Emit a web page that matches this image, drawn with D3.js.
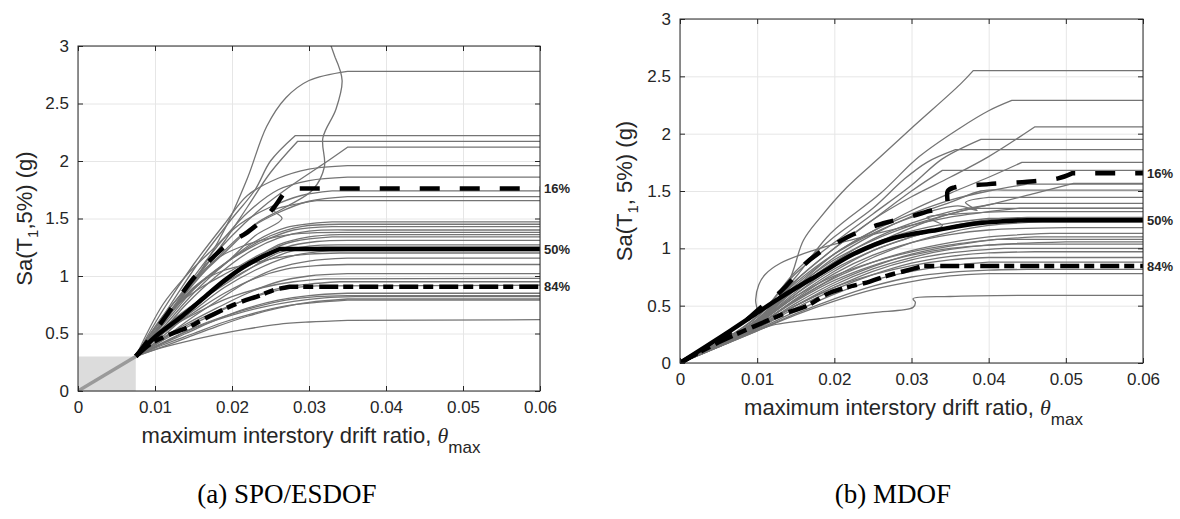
<!DOCTYPE html>
<html>
<head>
<meta charset="utf-8">
<script src="https://cdn.jsdelivr.net/npm/d3@7"></script>
<style>
  body { margin: 0; background: #fff; }
  svg text { font-family: "Liberation Sans", Arial, sans-serif; fill: #262626; }
  svg .caption { font-family: "Liberation Serif", "Times New Roman", serif; fill: #000; }
</style>
</head>
<body>
<div id="chart"></div>
<script>
// ---- axis ticks / labels
var xTicks = [0, 0.01, 0.02, 0.03, 0.04, 0.05, 0.06];
var yTicks = [0, 0.5, 1, 1.5, 2, 2.5, 3];
var pctNames = ["16%", "50%", "84%"];

// ---- (a) SPO/ESDOF : elastic part + individual records
var spoElastic = [[0, 0], [0.0075, 0.3]];

var spoCurves = [
  [[0.0075,0.3],[0.011,0.6],[0.015,0.95],[0.019,1.4],[0.022,1.85],[0.0245,2.3],[0.027,2.55],[0.03,2.7],[0.035,2.78],[0.06,2.78]],
  [[0.0075,0.3],[0.011,0.65],[0.015,0.95],[0.019,1.2],[0.023,1.45],[0.027,1.6],[0.0305,1.75],[0.032,1.95],[0.0318,2.2],[0.0335,2.45],[0.0343,2.7],[0.0334,2.9],[0.0326,3.05]],
  [[0.0075,0.3],[0.012,0.75],[0.016,1.15],[0.02,1.5],[0.023,1.75],[0.025,2.0],[0.0282,2.22],[0.06,2.22]],
  [[0.0075,0.3],[0.011,0.6],[0.015,0.95],[0.019,1.3],[0.022,1.6],[0.025,1.9],[0.0285,2.17],[0.06,2.17]],
  [[0.0075,0.3],[0.012,0.7],[0.016,1.05],[0.02,1.35],[0.024,1.6],[0.028,1.8],[0.032,1.98],[0.035,2.12],[0.06,2.12]],
  [[0.0075,0.3],[0.011,0.7],[0.015,1.1],[0.019,1.45],[0.022,1.7],[0.026,1.85],[0.03,1.93],[0.035,1.96],[0.06,1.96]],
  [[0.0075,0.3],[0.01,0.55],[0.014,0.9],[0.018,1.25],[0.022,1.55],[0.026,1.75],[0.03,1.83],[0.035,1.86],[0.06,1.86]],
  [[0.0075,0.3],[0.011,0.75],[0.014,1.0],[0.017,1.2],[0.021,1.45],[0.025,1.6],[0.029,1.7],[0.033,1.74],[0.06,1.74]],
  [[0.0075,0.3],[0.01,0.5],[0.014,0.85],[0.018,1.15],[0.022,1.4],[0.026,1.55],[0.03,1.65],[0.035,1.69],[0.06,1.69]],
  [[0.0075,0.3],[0.011,0.6],[0.015,0.9],[0.019,1.1],[0.023,1.35],[0.0265,1.5],[0.0255,1.57],[0.028,1.62],[0.031,1.655],[0.06,1.655]],
  [[0.0075,0.3],[0.011,0.55],[0.015,0.85],[0.019,1.1],[0.023,1.3],[0.027,1.42],[0.033,1.47],[0.06,1.47]],
  [[0.0075,0.3],[0.01,0.5],[0.013,0.75],[0.017,1.0],[0.021,1.2],[0.025,1.35],[0.029,1.43],[0.034,1.45],[0.06,1.45]],
  [[0.0075,0.3],[0.012,0.65],[0.016,0.95],[0.02,1.15],[0.024,1.3],[0.028,1.4],[0.033,1.43],[0.06,1.43]],
  [[0.0075,0.3],[0.01,0.45],[0.014,0.75],[0.018,1.0],[0.022,1.2],[0.026,1.33],[0.03,1.39],[0.035,1.4],[0.06,1.4]],
  [[0.0075,0.3],[0.011,0.6],[0.015,0.95],[0.018,1.15],[0.021,1.25],[0.025,1.33],[0.029,1.37],[0.034,1.38],[0.06,1.38]],
  [[0.0075,0.3],[0.01,0.42],[0.014,0.65],[0.018,0.9],[0.022,1.1],[0.026,1.27],[0.03,1.34],[0.034,1.36],[0.06,1.36]],
  [[0.0075,0.3],[0.012,0.7],[0.016,0.9],[0.02,1.05],[0.024,1.2],[0.028,1.3],[0.033,1.34],[0.06,1.34]],
  [[0.0075,0.3],[0.011,0.5],[0.015,0.75],[0.019,0.95],[0.023,1.12],[0.027,1.25],[0.031,1.3],[0.035,1.31],[0.06,1.31]],
  [[0.0075,0.3],[0.01,0.45],[0.014,0.7],[0.018,0.88],[0.022,1.05],[0.026,1.2],[0.03,1.26],[0.035,1.27],[0.06,1.27]],
  [[0.0075,0.3],[0.012,0.6],[0.016,0.8],[0.02,0.98],[0.024,1.12],[0.028,1.22],[0.032,1.25],[0.06,1.25]],
  [[0.0075,0.3],[0.011,0.5],[0.015,0.7],[0.019,0.9],[0.023,1.05],[0.027,1.16],[0.031,1.21],[0.035,1.22],[0.06,1.22]],
  [[0.0075,0.3],[0.013,0.75],[0.016,0.95],[0.019,1.05],[0.022,1.1],[0.026,1.16],[0.03,1.19],[0.034,1.2],[0.06,1.2]],
  [[0.0075,0.3],[0.01,0.4],[0.014,0.6],[0.018,0.78],[0.022,0.95],[0.026,1.07],[0.03,1.13],[0.035,1.155],[0.06,1.155]],
  [[0.0075,0.3],[0.011,0.5],[0.015,0.68],[0.019,0.85],[0.023,0.98],[0.027,1.06],[0.031,1.09],[0.035,1.1],[0.06,1.1]],
  [[0.0075,0.3],[0.01,0.42],[0.014,0.58],[0.018,0.72],[0.022,0.85],[0.026,0.95],[0.03,1.0],[0.035,1.02],[0.06,1.02]],
  [[0.0075,0.3],[0.012,0.55],[0.016,0.7],[0.02,0.82],[0.024,0.9],[0.028,0.95],[0.032,0.975],[0.06,0.98]],
  [[0.0075,0.3],[0.01,0.4],[0.014,0.55],[0.018,0.68],[0.022,0.8],[0.026,0.89],[0.03,0.93],[0.034,0.95],[0.06,0.95]],
  [[0.0075,0.3],[0.011,0.45],[0.015,0.6],[0.019,0.72],[0.023,0.82],[0.027,0.89],[0.031,0.915],[0.06,0.92]],
  [[0.0075,0.3],[0.01,0.38],[0.014,0.5],[0.018,0.62],[0.022,0.72],[0.026,0.79],[0.03,0.83],[0.035,0.85],[0.06,0.85]],
  [[0.0075,0.3],[0.011,0.42],[0.015,0.55],[0.019,0.65],[0.023,0.73],[0.027,0.79],[0.031,0.82],[0.035,0.83],[0.06,0.83]],
  [[0.0075,0.3],[0.012,0.45],[0.016,0.57],[0.02,0.66],[0.024,0.73],[0.028,0.78],[0.032,0.81],[0.036,0.82],[0.06,0.82]],
  [[0.0075,0.3],[0.01,0.36],[0.014,0.46],[0.018,0.56],[0.022,0.65],[0.026,0.72],[0.03,0.77],[0.035,0.8],[0.06,0.8]],
  [[0.0075,0.3],[0.011,0.4],[0.015,0.5],[0.019,0.6],[0.023,0.68],[0.027,0.74],[0.031,0.77],[0.035,0.79],[0.06,0.79]],
  [[0.0075,0.3],[0.01,0.36],[0.014,0.43],[0.018,0.49],[0.022,0.54],[0.026,0.58],[0.03,0.6],[0.035,0.615],[0.06,0.62]]
];

var spo16 = [[0.0075,0.3],[0.009,0.43],[0.0113,0.64],[0.013,0.8],[0.015,0.98],[0.0175,1.16],[0.0195,1.28],[0.022,1.38],[0.024,1.49],[0.0255,1.6],[0.027,1.74],[0.0275,1.76],[0.06,1.76]];
var spo50 = [[0.0075,0.3],[0.01,0.47],[0.0135,0.65],[0.0165,0.82],[0.019,0.96],[0.0215,1.08],[0.024,1.17],[0.0262,1.235],[0.06,1.235]];
var spo84 = [[0.0075,0.3],[0.0094,0.41],[0.0115,0.48],[0.0145,0.56],[0.0162,0.62],[0.0206,0.76],[0.0236,0.83],[0.0255,0.88],[0.0275,0.907],[0.06,0.907]];

// ---- (b) MDOF : individual records
var mdofCurves = [
  [[0,0],[0.005,0.17],[0.01,0.38],[0.014,0.7],[0.016,1.07],[0.0182,1.27],[0.0216,1.53],[0.026,1.8],[0.0302,2.06],[0.0363,2.43],[0.038,2.55],[0.06,2.55]],
  [[0,0],[0.005,0.17],[0.01,0.38],[0.015,0.75],[0.0195,1.13],[0.026,1.48],[0.031,1.8],[0.0363,2.05],[0.04,2.2],[0.043,2.29],[0.06,2.29]],
  [[0,0],[0.005,0.17],[0.01,0.36],[0.015,0.72],[0.02,1.0],[0.025,1.25],[0.03,1.45],[0.035,1.62],[0.04,1.8],[0.046,2.06],[0.06,2.06]],
  [[0,0],[0.005,0.18],[0.01,0.4],[0.015,0.78],[0.02,1.05],[0.025,1.3],[0.03,1.55],[0.034,1.78],[0.039,1.95],[0.06,1.95]],
  [[0,0],[0.005,0.18],[0.01,0.4],[0.015,0.8],[0.02,1.1],[0.025,1.35],[0.029,1.6],[0.032,1.75],[0.0357,1.86],[0.06,1.86]],
  [[0,0],[0.005,0.16],[0.01,0.36],[0.015,0.66],[0.02,0.95],[0.025,1.15],[0.03,1.33],[0.035,1.48],[0.04,1.62],[0.0443,1.75],[0.06,1.75]],
  [[0,0],[0.005,0.17],[0.01,0.38],[0.015,0.72],[0.02,1.0],[0.025,1.25],[0.03,1.5],[0.034,1.68],[0.06,1.68]],
  [[0,0],[0.005,0.16],[0.01,0.35],[0.015,0.62],[0.02,0.88],[0.025,1.08],[0.03,1.22],[0.035,1.32],[0.04,1.38],[0.046,1.48],[0.051,1.567],[0.06,1.567]],
  [[0,0],[0.005,0.17],[0.01,0.37],[0.015,0.68],[0.02,0.95],[0.025,1.15],[0.03,1.3],[0.035,1.42],[0.04,1.5],[0.045,1.56],[0.06,1.56]],
  [[0,0],[0.005,0.16],[0.01,0.35],[0.015,0.65],[0.02,0.92],[0.025,1.12],[0.03,1.28],[0.035,1.4],[0.039,1.5],[0.042,1.508],[0.06,1.508]],
  [[0,0],[0.005,0.17],[0.01,0.38],[0.015,0.7],[0.02,0.95],[0.025,1.13],[0.03,1.27],[0.036,1.37],[0.0385,1.33],[0.037,1.4],[0.04,1.445],[0.06,1.445]],
  [[0,0],[0.005,0.16],[0.01,0.34],[0.015,0.6],[0.02,0.85],[0.025,1.03],[0.03,1.18],[0.035,1.3],[0.041,1.392],[0.06,1.392]],
  [[0,0],[0.005,0.17],[0.01,0.37],[0.015,0.66],[0.02,0.9],[0.025,1.07],[0.03,1.2],[0.035,1.3],[0.038,1.349],[0.06,1.349]],
  [[0,0],[0.005,0.16],[0.01,0.34],[0.015,0.58],[0.02,0.8],[0.025,0.98],[0.03,1.1],[0.034,1.2],[0.032,1.27],[0.036,1.3],[0.042,1.32],[0.06,1.32]],
  [[0,0],[0.005,0.16],[0.01,0.35],[0.015,0.6],[0.02,0.82],[0.025,0.98],[0.03,1.1],[0.035,1.19],[0.04,1.25],[0.045,1.27],[0.06,1.27]],
  [[0,0],[0.005,0.15],[0.01,0.32],[0.015,0.55],[0.02,0.75],[0.025,0.92],[0.03,1.05],[0.035,1.14],[0.04,1.2],[0.047,1.23],[0.06,1.23]],
  [[0,0],[0.005,0.16],[0.01,0.33],[0.015,0.55],[0.02,0.74],[0.025,0.88],[0.03,0.98],[0.035,1.05],[0.04,1.1],[0.048,1.13],[0.06,1.13]],
  [[0,0],[0.005,0.15],[0.01,0.31],[0.015,0.52],[0.02,0.7],[0.025,0.84],[0.03,0.95],[0.035,1.02],[0.04,1.07],[0.046,1.1],[0.06,1.1]],
  [[0,0],[0.005,0.16],[0.01,0.34],[0.015,0.58],[0.02,0.76],[0.025,0.88],[0.03,0.97],[0.035,1.03],[0.041,1.078],[0.06,1.078]],
  [[0,0],[0.005,0.15],[0.01,0.3],[0.015,0.5],[0.02,0.68],[0.025,0.82],[0.03,0.92],[0.035,0.99],[0.04,1.03],[0.05,1.057],[0.06,1.057]],
  [[0,0],[0.005,0.16],[0.01,0.33],[0.015,0.54],[0.02,0.72],[0.025,0.85],[0.03,0.94],[0.035,1.0],[0.043,1.037],[0.06,1.037]],
  [[0,0],[0.005,0.15],[0.01,0.31],[0.015,0.5],[0.02,0.66],[0.025,0.8],[0.03,0.9],[0.035,0.96],[0.042,1.0],[0.06,1.0]],
  [[0,0],[0.005,0.15],[0.01,0.3],[0.015,0.48],[0.02,0.64],[0.025,0.77],[0.03,0.87],[0.035,0.93],[0.04,0.96],[0.046,0.97],[0.06,0.97]],
  [[0,0],[0.005,0.15],[0.01,0.32],[0.015,0.5],[0.02,0.66],[0.025,0.77],[0.03,0.85],[0.035,0.9],[0.04,0.92],[0.06,0.92]],
  [[0,0],[0.005,0.14],[0.01,0.29],[0.015,0.45],[0.02,0.6],[0.025,0.72],[0.03,0.8],[0.035,0.85],[0.04,0.88],[0.06,0.88]],
  [[0,0],[0.005,0.14],[0.01,0.28],[0.015,0.43],[0.02,0.56],[0.025,0.67],[0.03,0.75],[0.035,0.79],[0.04,0.81],[0.045,0.816],[0.06,0.816]],
  [[0,0],[0.005,0.14],[0.01,0.28],[0.015,0.42],[0.02,0.54],[0.025,0.64],[0.03,0.71],[0.035,0.76],[0.04,0.78],[0.06,0.78]],
  [[0,0],[0.005,0.14],[0.009,0.26],[0.012,0.33],[0.02,0.4],[0.025,0.44],[0.0302,0.485],[0.0305,0.53],[0.0302,0.56],[0.035,0.58],[0.045,0.59],[0.06,0.59]],
  [[0,0],[0.005,0.17],[0.0085,0.33],[0.01,0.42],[0.0098,0.55],[0.0102,0.68],[0.011,0.77],[0.013,0.87],[0.0172,0.98],[0.022,1.07],[0.028,1.17],[0.034,1.26],[0.04,1.32],[0.044,1.35],[0.06,1.35]],
  [[0,0],[0.005,0.17],[0.01,0.36],[0.015,0.64],[0.02,0.88],[0.025,1.04],[0.03,1.15],[0.035,1.22],[0.04,1.26],[0.06,1.26]],
  [[0,0],[0.005,0.15],[0.01,0.32],[0.015,0.56],[0.02,0.78],[0.025,0.94],[0.03,1.05],[0.035,1.12],[0.04,1.16],[0.05,1.18],[0.06,1.18]]
];

var mdof16 = [[0,0],[0.005,0.2],[0.0087,0.38],[0.0104,0.48],[0.013,0.62],[0.0147,0.74],[0.016,0.85],[0.0178,0.95],[0.0204,1.05],[0.0224,1.12],[0.025,1.19],[0.027,1.23],[0.03,1.28],[0.032,1.32],[0.0345,1.37],[0.0347,1.5],[0.0355,1.53],[0.04,1.56],[0.045,1.58],[0.049,1.61],[0.0508,1.654],[0.06,1.654]];
var mdof50 = [[0,0],[0.0065,0.28],[0.013,0.57],[0.0182,0.78],[0.0225,0.95],[0.0277,1.09],[0.0333,1.16],[0.0389,1.22],[0.045,1.246],[0.06,1.246]];
var mdof84 = [[0,0],[0.005,0.18],[0.01,0.33],[0.0135,0.43],[0.0165,0.5],[0.019,0.6],[0.0211,0.65],[0.0246,0.71],[0.0268,0.76],[0.029,0.8],[0.0315,0.845],[0.06,0.845]];


var DriftChart = function(input) {
    // load in arguments from config object
    this.input = input;
    this.draw();
}

DriftChart.prototype.draw = function() {
    var inp = this.input;
    this.width = inp.width;
    this.height = inp.height;

    this.canvas = inp.svg.append("g")
        .attr("transform", "translate(" + inp.left + "," + inp.top + ")");

    this.xScale = d3.scaleLinear().domain([0, 0.06]).range([0, this.width]);
    this.yScale = d3.scaleLinear().domain([0, 3]).range([this.height, 0]);

    this.canvas.append("clipPath").attr("id", inp.id + "-clip")
      .append("rect").attr("width", this.width).attr("height", this.height);

    this.addGrid();
    this.addCurves();
    this.addAxes();
    this.addLabels();
}

DriftChart.prototype.addGrid = function() {
    var grid = this.canvas.append("g").attr("class", "grid");
    grid.append("g")
        .attr("transform", "translate(0," + this.height + ")")
        .call(d3.axisBottom(this.xScale).tickValues(xTicks).tickSize(-this.height).tickFormat(""));
    grid.append("g")
        .call(d3.axisLeft(this.yScale).tickValues(yTicks).tickSize(-this.width).tickFormat(""));
    grid.selectAll(".domain").remove();
    grid.selectAll("line").attr("stroke", "#e6e6e6").attr("stroke-width", 1);
}

DriftChart.prototype.addCurves = function() {
    var chart_this = this;
    var inp = this.input;
    var plot = this.canvas.append("g").attr("clip-path", "url(#" + inp.id + "-clip)");

    var smooth = d3.line()
        .x(d => chart_this.xScale(d[0]))
        .y(d => chart_this.yScale(d[1]))
        .curve(d3.curveCatmullRom.alpha(0.5));

    // smooth rise, then a straight run to the last point (the flat plateau)
    var path = function(d) {
        var last = d[d.length - 1];
        return smooth(d.slice(0, -1)) + "L" + chart_this.xScale(last[0]) + "," + chart_this.yScale(last[1]);
    };

    // shaded elastic zone (SPO only)
    if (inp.elastic) {
        var e = inp.elastic[1];
        plot.append("rect")
            .attr("x", this.xScale(0))
            .attr("y", this.yScale(e[1]))
            .attr("width", this.xScale(e[0]) - this.xScale(0))
            .attr("height", this.yScale(0) - this.yScale(e[1]))
            .attr("fill", "#dcdcdc");
    }

    plot.selectAll(".record")
        .data(inp.curves)
      .enter().append("path")
        .attr("class", "record")
        .attr("d", path)
        .attr("fill", "none")
        .attr("stroke", "#747474")
        .attr("stroke-width", 1.3);

    var styles = ["20,20", null, "19,5,10,6"];
    plot.selectAll(".pct")
        .data(inp.pcts)
      .enter().append("path")
        .attr("class", "pct")
        .attr("d", path)
        .attr("fill", "none")
        .attr("stroke", "#000")
        .attr("stroke-width", 4.5)
        .attr("stroke-dasharray", (d, i) => styles[i]);

    if (inp.elastic) {
        plot.append("path")
            .attr("d", d3.line().x(d => chart_this.xScale(d[0])).y(d => chart_this.yScale(d[1]))(inp.elastic))
            .attr("stroke", "#9a9a9a")
            .attr("stroke-width", 3.5);
    }
}

DriftChart.prototype.addAxes = function() {
    var axes = this.canvas.append("g").attr("class", "axes");

    var xAxis = d3.axisBottom(this.xScale).tickValues(xTicks).tickSizeInner(-5).tickSizeOuter(0)
        .tickPadding(10).tickFormat(d => d === 0 ? "0" : d3.format(".2f")(d));
    var yAxis = d3.axisLeft(this.yScale).tickValues(yTicks).tickSizeInner(-5).tickSizeOuter(0)
        .tickPadding(9).tickFormat(d => String(d));

    axes.append("g").attr("transform", "translate(0," + this.height + ")").call(xAxis);
    axes.append("g").call(yAxis);
    axes.append("g").call(d3.axisTop(this.xScale).tickValues(xTicks).tickSizeInner(-5).tickSizeOuter(0).tickFormat(""));
    axes.append("g").attr("transform", "translate(" + this.width + ",0)")
        .call(d3.axisRight(this.yScale).tickValues(yTicks).tickSizeInner(-5).tickSizeOuter(0).tickFormat(""));

    axes.selectAll(".domain").remove();
    axes.selectAll("line").attr("stroke", "#262626");
    axes.selectAll("text").attr("font-size", 17).attr("fill", "#262626")
        .style("font-family", "'Liberation Sans', Arial, sans-serif");

    axes.append("rect")
        .attr("width", this.width).attr("height", this.height)
        .attr("fill", "none").attr("stroke", "#262626").attr("stroke-width", 1);
}

DriftChart.prototype.addLabels = function() {
    var chart_this = this;
    var inp = this.input;

    // percentile labels at right edge
    this.canvas.selectAll(".pctLabel")
        .data(inp.pcts)
      .enter().append("text")
        .attr("class", "pctLabel")
        .attr("x", this.width + 4)
        .attr("y", d => chart_this.yScale(d[d.length - 1][1]))
        .attr("dy", "0.35em")
        .attr("font-size", 13)
        .attr("font-weight", "bold")
        .attr("fill", "#000")
        .text((d, i) => pctNames[i]);

    // x-axis label
    var xl = this.canvas.append("text")
        .attr("x", this.width / 2 + 2)
        .attr("y", this.height + 52)
        .attr("text-anchor", "middle")
        .attr("font-size", 22);
    xl.append("tspan").text("maximum interstory drift ratio, ");
    xl.append("tspan").text("\u03b8").attr("font-style", "italic")
        .style("font-family", "'Liberation Serif', 'Times New Roman', serif");
    xl.append("tspan").text("max").attr("font-size", 17).attr("dy", 10);

    // y-axis label
    var yl = this.canvas.append("text")
        .attr("transform", "rotate(-90)")
        .attr("x", -this.height / 2)
        .attr("y", inp.yLabelX)
        .attr("text-anchor", "middle")
        .attr("font-size", 22);
    yl.append("tspan").text("Sa(T");
    yl.append("tspan").text("1").attr("font-size", 15).attr("dy", 6);
    yl.append("tspan").text(inp.yLabelRest).attr("dy", -6);

    // caption
    inp.svg.append("text")
        .attr("class", "caption")
        .attr("x", inp.captionX)
        .attr("y", 503)
        .attr("text-anchor", "middle")
        .attr("font-size", 27)
        .text(inp.caption);
}


var svg = d3.select("#chart").append("svg")
    .attr("width", 1180)
    .attr("height", 519);

var spoChart = new DriftChart({
    svg: svg, id: "spo",
    left: 78, top: 46, width: 462, height: 345,
    curves: spoCurves, pcts: [spo16, spo50, spo84], elastic: spoElastic,
    yLabelX: -46, yLabelRest: ",5%) (g)",
    caption: "(a) SPO/ESDOF", captionX: 287
});

var mdofChart = new DriftChart({
    svg: svg, id: "mdof",
    left: 680, top: 19, width: 463, height: 344,
    curves: mdofCurves, pcts: [mdof16, mdof50, mdof84], elastic: null,
    yLabelX: -48, yLabelRest: ", 5%) (g)",
    caption: "(b) MDOF", captionX: 893
});
</script>
</body>
</html>
